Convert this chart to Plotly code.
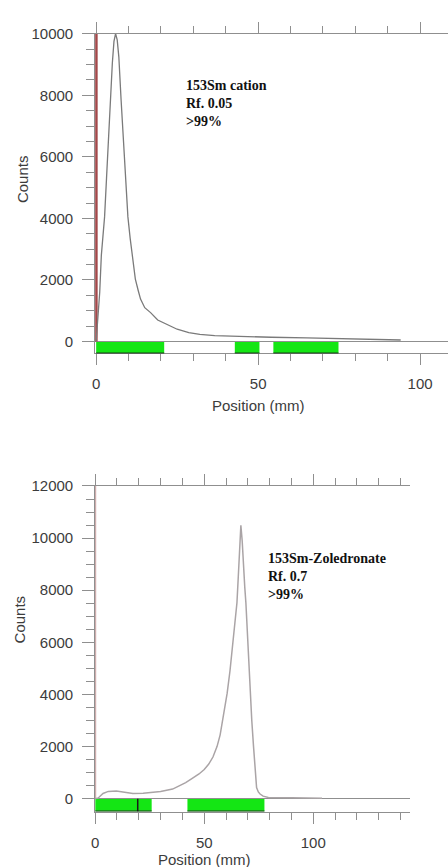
import plotly.graph_objects as go

# ---------------- data ----------------
# Top: 153Sm cation
cat_pos = [0, 0.5, 1.1, 1.6, 2.1, 2.6, 3.2, 3.7, 4.3, 5.0, 5.5, 6.0, 6.5, 7.0, 7.7, 8.4, 9.1,
           9.8, 10.5, 11.1, 12.1, 13.0, 13.7, 15.0, 16.8, 19.0, 22.5, 25.0, 28.6, 32.0, 36.6,
           45.0, 54.0, 65.0, 75.0, 85.0, 94.0]
cat_counts = [0, 700, 1600, 2800, 3400, 4050, 5300, 6450, 7750, 9050, 9750, 10000, 9800, 9250,
              7850, 6450, 5100, 4050, 3350, 2800, 2030, 1650, 1380, 1100, 940, 700, 515, 400,
              290, 230, 190, 160, 140, 120, 100, 80, 50]
cat_regions = [(0, 21.0), (42.8, 50.4), (54.7, 74.8)]
cat_origin = [0, 10000]
cat_label = ["153Sm cation", "Rf. 0.05", ">99%"]

# Bottom: 153Sm-Zoledronate
zol_pos = [0, 1.4, 3.6, 6.0, 9.7, 13.0, 17.3, 22.0, 26.4, 30.0, 35.5, 38.5, 41.5, 44.5, 47.6,
           50.0, 52.0, 54.0, 55.9, 57.3, 58.5, 59.6, 60.5, 61.8, 63.0, 64.0, 65.0, 65.6, 66.2,
           66.8, 67.4, 68.0, 68.6, 69.1, 70.0, 71.0, 71.8, 72.6, 73.3, 74.0, 74.8, 75.6, 77.0,
           79.4, 90.0, 100.0, 104.0]
zol_counts = [0, 30, 200, 280, 300, 260, 200, 210, 240, 280, 370, 480, 620, 780, 950,
              1120, 1320, 1600, 2010, 2450, 3000, 3500, 4040, 4900, 6000, 6700, 7520, 8500, 9700,
              10490, 9900, 8800, 8100, 7520, 6000, 4040, 3000, 2010, 1200, 430, 260, 180, 100,
              50, 40, 30, 20]
zol_regions = [(0, 25.9), (42.3, 77.6)]
zol_marker = 19.5
zol_origin = [0, 12000]
zol_label = ["153Sm-Zoledronate", "Rf. 0.7", ">99%"]

# ---------------- figure ----------------
W, H = 448, 867
def py(p):
    return 1 - p / H

axis_col = "#8f8f8f"
tick_font = dict(family="Liberation Sans, Arial, sans-serif", size=15, color="#3c3c3c")
green = "#14e614"

fig = go.Figure()

fig.add_trace(go.Scatter(x=[0, 0], y=cat_origin, mode="lines",
                         line=dict(color="#a3484a", width=3), xaxis="x", yaxis="y",
                         showlegend=False, hoverinfo="skip"))
fig.add_trace(go.Scatter(x=cat_pos, y=cat_counts, mode="lines",
                         line=dict(color="#7a7a7a", width=1.3), xaxis="x", yaxis="y",
                         showlegend=False))
fig.add_trace(go.Scatter(x=[0, 0], y=zol_origin, mode="lines",
                         line=dict(color="#c49c9c", width=2), xaxis="x2", yaxis="y2",
                         showlegend=False, hoverinfo="skip"))
fig.add_trace(go.Scatter(x=zol_pos, y=zol_counts, mode="lines",
                         line=dict(color="#aaa4a6", width=1.5), xaxis="x2", yaxis="y2",
                         showlegend=False))

top_ymin, bot_ymin = -385, -494
shapes = []
for (a, b) in cat_regions:
    shapes.append(dict(type="rect", xref="x", yref="y", x0=a, x1=b, y0=top_ymin, y1=0,
                       fillcolor=green, line=dict(width=0), layer="below"))
    shapes.append(dict(type="line", xref="x", yref="y", x0=a, x1=b, y0=top_ymin, y1=top_ymin,
                       line=dict(color="#1c3a1c", width=2)))
for (a, b) in zol_regions:
    shapes.append(dict(type="rect", xref="x2", yref="y2", x0=a, x1=b, y0=bot_ymin, y1=0,
                       fillcolor=green, line=dict(width=0), layer="below"))
    shapes.append(dict(type="line", xref="x2", yref="y2", x0=a, x1=b, y0=bot_ymin, y1=bot_ymin,
                       line=dict(color="#1c3a1c", width=2)))
shapes.append(dict(type="line", xref="x2", yref="y2", x0=zol_marker, x1=zol_marker,
                   y0=bot_ymin, y1=0, line=dict(color="#1a1a1a", width=1.5)))

common_x = dict(showline=True, linecolor=axis_col, linewidth=1, mirror="ticks",
                ticks="outside", ticklen=11, tickcolor=axis_col, tickwidth=1,
                tick0=0, dtick=50, showgrid=False, zeroline=False, tickformat="d",
                tickfont=tick_font, ticklabelstandoff=6,
                minor=dict(dtick=10, ticks="outside", ticklen=7, tickcolor=axis_col, showgrid=False))
common_y = dict(showline=True, linecolor=axis_col, linewidth=1, mirror=False,
                ticks="outside", ticklen=12, tickcolor=axis_col, tickwidth=1,
                tick0=0, dtick=2000, showgrid=False, zeroline=True, zerolinecolor=axis_col,
                zerolinewidth=1, tickfont=tick_font, ticklabelstandoff=6, tickformat="d",
                minor=dict(dtick=500, ticks="outside", ticklen=8, tickcolor=axis_col, showgrid=False))

serif = dict(family="Liberation Serif, Times New Roman, serif", size=14, color="#111111")
title_font = dict(family="Liberation Sans, Arial, sans-serif", size=15, color="#3c3c3c")

annotations = [
    dict(xref="paper", yref="paper", x=182 / W, y=py(68), xanchor="left", yanchor="top",
         text="<b>" + "<br>".join(cat_label) + "</b>", showarrow=False, align="left", font=serif),
    dict(xref="paper", yref="paper", x=264 / W, y=py(546), xanchor="left", yanchor="top",
         text="<b>" + "<br>".join(zol_label) + "</b>", showarrow=False, align="left", font=serif),
    dict(xref="paper", yref="paper", x=18 / W, y=py(172), text="Counts", textangle=-90,
         showarrow=False, font=title_font, xanchor="center", yanchor="middle"),
    dict(xref="paper", yref="paper", x=16 / W, y=py(617), text="Counts", textangle=-90,
         showarrow=False, font=title_font, xanchor="center", yanchor="middle"),
    dict(xref="paper", yref="paper", x=257 / W, y=py(401), text="Position (mm)",
         showarrow=False, font=title_font, xanchor="center", yanchor="middle"),
    dict(xref="paper", yref="paper", x=202 / W, y=py(859), text="Position (mm)",
         showarrow=False, font=title_font, xanchor="center", yanchor="middle"),
]

fig.update_layout(
    width=W, height=H, margin=dict(l=0, r=0, t=0, b=0),
    paper_bgcolor="white", plot_bgcolor="white", showlegend=False,
    xaxis=dict(domain=[92 / W, 1.0], range=[-0.3, 108.6], anchor="y", **common_x),
    yaxis=dict(domain=[py(348), py(25)], range=[top_ymin, 10000], anchor="x", **common_y),
    xaxis2=dict(domain=[92 / W, 410 / W], range=[0, 144.5], anchor="y2", **common_x),
    yaxis2=dict(domain=[py(811), py(482)], range=[bot_ymin, 12000], anchor="x2", **common_y),
    shapes=shapes, annotations=annotations,
)

fig.write_html("out.html")
